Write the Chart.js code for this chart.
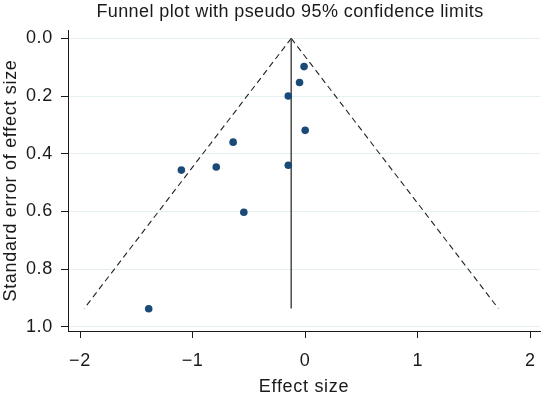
<!DOCTYPE html>
<html>
<head>
<meta charset="utf-8">
<script src="https://cdn.jsdelivr.net/npm/chart.js@4.4.1/dist/chart.umd.min.js"></script>
<style>
  html, body { margin: 0; padding: 0; background: #fff; }
  #wrap { width: 544px; height: 395px; position: relative; }
</style>
</head>
<body>
<div id="wrap"><canvas id="funnel"></canvas></div>
<script>
// study estimates
const effectSize = [-0.01, -0.05, -0.15, 0.00, -0.64, -0.79, -1.10, -0.15, -0.545, -1.39];
const stdError   = [0.098, 0.153, 0.200, 0.319, 0.360, 0.446, 0.457, 0.440, 0.603, 0.938];

// pooled estimate and pseudo 95% limits
const pooledX  = [-0.124, -0.124];
const pooledY  = [0, 0.937];
const leftX    = [-0.124, -1.963];
const rightX   = [-0.124, 1.716];
const limitY   = [0, 0.937];

const xTicks = [-2, -1, 0, 1, 2];
const yTicks = [0, 0.2, 0.4, 0.6, 0.8, 1.0];

const FONT = 'Liberation Sans, Arial, Helvetica, sans-serif';
const INK  = '#1a1a1a';

const pts = (xs, ys) => xs.map((x, i) => ({ x, y: ys[i] }));

// the original uses a slightly wider Helvetica, so open up the letters a bit
const spacing = {
  id: 'spacing',
  beforeDraw(c) { c.ctx.letterSpacing = '0.7px'; }
};

const titlePlugin = {
  id: 'stataTitle',
  afterDraw(c) {
    const ctx = c.ctx;
    ctx.save();
    ctx.letterSpacing = '0.4px';
    ctx.font = `18px ${FONT}`;
    ctx.fillStyle = INK;
    ctx.textAlign = 'center';
    ctx.textBaseline = 'middle';
    ctx.fillText('Funnel plot with pseudo 95% confidence limits', 290, 12);
    ctx.restore();
  }
};

new Chart(document.getElementById('funnel'), {
  type: 'scatter',
  data: {
    datasets: [
      {
        label: 'Studies',
        data: pts(effectSize, stdError),
        backgroundColor: '#1a4a78',
        borderColor: '#1a4a78',
        pointRadius: 3.8,
        borderWidth: 0,
        order: 0
      },
      {
        label: 'Pooled',
        data: pts(pooledX, pooledY),
        showLine: true,
        borderColor: '#555555',
        borderWidth: 1.6,
        pointRadius: 0,
        order: 1
      },
      {
        label: 'Lower limit',
        data: pts(leftX, limitY),
        showLine: true,
        borderColor: '#222',
        borderWidth: 1.1,
        borderDash: [6, 4],
        pointRadius: 0,
        order: 1
      },
      {
        label: 'Upper limit',
        data: pts(rightX, limitY),
        showLine: true,
        borderColor: '#222',
        borderWidth: 1.1,
        borderDash: [6, 4],
        pointRadius: 0,
        order: 1
      }
    ]
  },
  options: {
    responsive: true, maintainAspectRatio: false,
    animation: false,
    layout: { padding: { left: 0, right: 1, top: 30, bottom: 0 } },
    plugins: {
      legend: { display: false },
      tooltip: { enabled: false }
    },
    scales: {
      x: {
        type: 'linear',
        min: -2.107, max: 2.086,
        afterBuildTicks: s => { s.ticks = xTicks.map(v => ({ value: v })); },
        afterFit: s => { s.height = 64; s.paddingLeft = 0; s.paddingRight = 0; },
        grid: { drawOnChartArea: false, tickLength: 7, tickColor: INK, tickWidth: 1 },
        border: { color: INK, width: 1 },
        ticks: {
          color: INK, padding: 12,
          font: { family: FONT, size: 18 },
          callback: v => v < 0 ? '\u2212' + Math.abs(v) : String(v)
        },
        title: {
          display: true, text: 'Effect size', color: INK,
          font: { family: FONT, size: 18 },
          padding: { top: 0, bottom: -3 }
        }
      },
      y: {
        type: 'linear',
        reverse: true,
        min: -0.029, max: 1.015,
        afterBuildTicks: s => { s.ticks = yTicks.map(v => ({ value: v })); },
        afterFit: s => { s.width = 68; s.paddingTop = 0; s.paddingBottom = 0; },
        grid: { color: '#e6eff2', lineWidth: 1, tickLength: 7, tickColor: INK, tickWidth: 1 },
        border: { color: INK, width: 1 },
        ticks: {
          color: INK, padding: 8,
          font: { family: FONT, size: 18 },
          callback: v => v.toFixed(1)
        },
        title: {
          display: true, text: 'Standard error of effect size', color: INK,
          font: { family: FONT, size: 18 },
          padding: { top: 0, bottom: 0 }
        }
      }
    }
  },
  plugins: [spacing, titlePlugin]
});
</script>
</body>
</html>
